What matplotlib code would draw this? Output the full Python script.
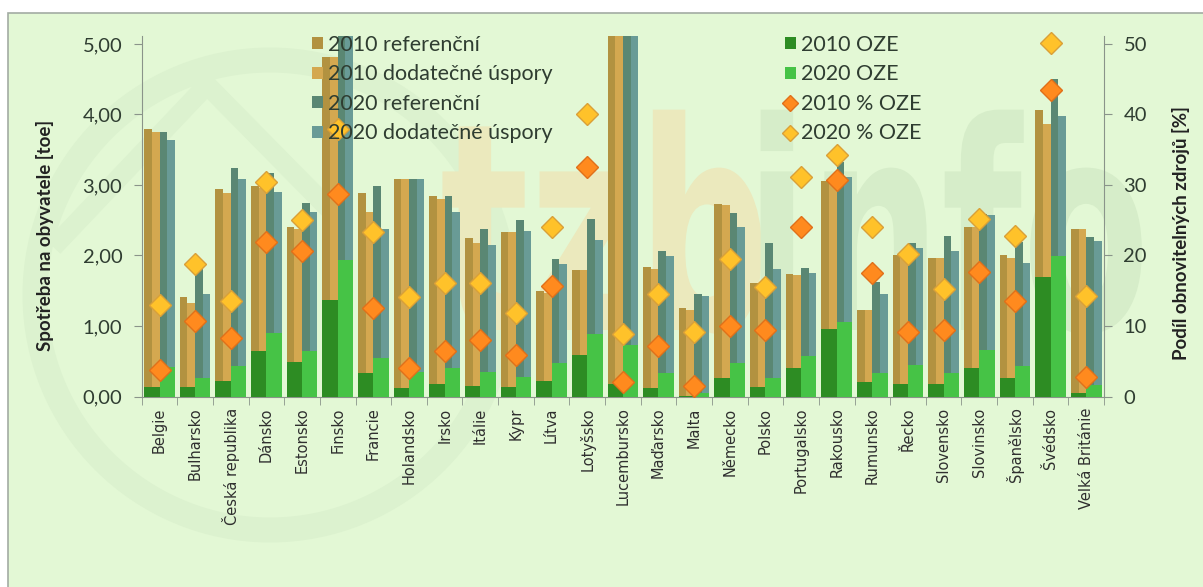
import numpy as np
import matplotlib
matplotlib.use("Agg")
import matplotlib.pyplot as plt
from matplotlib.patches import Patch, Rectangle, Circle, PathPatch
from matplotlib.lines import Line2D
from matplotlib.textpath import TextPath
from matplotlib.font_manager import FontProperties
from matplotlib.ticker import FuncFormatter
from matplotlib.transforms import Affine2D

# Data
countries = ["Belgie", "Bulharsko", "Česká republika", "Dánsko", "Estonsko", "Finsko",
             "Francie", "Holandsko", "Irsko", "Itálie", "Kypr", "Lítva", "Lotyšsko",
             "Lucembursko", "Maďarsko", "Malta", "Německo", "Polsko", "Portugalsko",
             "Rakousko", "Rumunsko", "Řecko", "Slovensko", "Slovinsko", "Španělsko",
             "Švédsko", "Velká Británie"]
# spotřeba na obyvatele [toe]
ref2010 = [3.79, 1.41, 2.94, 2.99, 2.41, 4.81, 2.89, 3.08, 2.84, 2.25, 2.34, 1.50, 1.80, 5.60,
           1.84, 1.25, 2.73, 1.61, 1.74, 3.06, 1.22, 2.00, 1.96, 2.41, 2.00, 4.07, 2.37]
dod2010 = [3.75, 1.33, 2.88, 2.96, 2.38, 4.81, 2.62, 3.08, 2.80, 2.18, 2.34, 1.47, 1.80, 5.60,
           1.81, 1.22, 2.72, 1.58, 1.72, 3.06, 1.22, 1.99, 1.96, 2.41, 1.97, 3.87, 2.37]
ref2020 = [3.75, 1.82, 3.24, 3.17, 2.75, 5.60, 2.99, 3.08, 2.84, 2.37, 2.50, 1.95, 2.52, 5.60,
           2.07, 1.45, 2.60, 2.18, 1.82, 3.33, 1.62, 2.18, 2.28, 2.59, 2.19, 4.50, 2.26]
dod2020 = [3.64, 1.45, 3.09, 2.90, 2.62, 5.60, 2.37, 3.08, 2.62, 2.15, 2.35, 1.88, 2.22, 5.60,
           1.99, 1.42, 2.40, 1.81, 1.75, 3.11, 1.45, 2.10, 2.07, 2.58, 1.89, 3.98, 2.20]
oze2010 = [0.13, 0.13, 0.22, 0.65, 0.49, 1.37, 0.33, 0.12, 0.18, 0.15, 0.13, 0.22, 0.59, 0.18,
           0.12, 0.01, 0.26, 0.13, 0.41, 0.96, 0.20, 0.18, 0.18, 0.41, 0.26, 1.69, 0.05]
oze2020 = [0.42, 0.26, 0.43, 0.90, 0.65, 1.94, 0.54, 0.35, 0.40, 0.35, 0.27, 0.47, 0.89, 0.73,
           0.33, 0.05, 0.47, 0.26, 0.57, 1.06, 0.33, 0.45, 0.33, 0.66, 0.43, 1.99, 0.16]
# podíl OZE [%]
pct2010 = [3.7, 10.7, 8.3, 21.9, 20.7, 28.7, 12.6, 4.1, 6.5, 8.0, 5.9, 15.7, 32.6, 2.1,
           7.2, 1.5, 10.0, 9.5, 24.0, 30.7, 17.5, 9.1, 9.4, 17.6, 13.5, 43.4, 2.8]
pct2020 = [13.0, 18.8, 13.5, 30.4, 25.0, 37.9, 23.3, 14.1, 16.1, 16.1, 11.8, 24.1, 40.0, 8.8,
           14.6, 9.1, 19.5, 15.5, 31.2, 34.2, 24.0, 20.2, 15.2, 25.2, 22.7, 50.1, 14.3]

labels_a = ["2010 referenční", "2010 dodatečné úspory", "2020 referenční", "2020 dodatečné úspory"]
labels_b = ["2010 OZE", "2020 OZE", "2010 % OZE", "2020 % OZE"]

# colours
c_ref10, c_dod10 = "#b29240", "#d4a850"
c_ref20, c_dod20 = "#5a8773", "#699b96"
c_oze10, c_oze20 = "#2d8c23", "#46c346"
c_p10, c_p10e = "#ff8a1e", "#e0701a"
c_p20, c_p20e = "#ffc22a", "#d9a038"
bg = "#e3f8d5"
txt = "#2f3d31"
axcol = "#8a948a"

plt.rcParams['font.family'] = ['Lato', 'DejaVu Sans']

W, H = 1203, 587
fig = plt.figure(figsize=(W / 100, H / 100), dpi=100, facecolor="white")

# background frame
frame = Rectangle((8 / W, -0.05), 1.1, 1.05 - 12.7 / H, transform=fig.transFigure,
                  facecolor=bg, edgecolor="#a3aca3", linewidth=1.2, zorder=-3)
fig.add_artist(frame)

# faint tzbinfo watermark
ring = Circle((270 / 100, (H - 295) / 100), 2.35, transform=fig.dpi_scale_trans,
              facecolor="none", edgecolor="#dcf2cf", linewidth=18, zorder=-2)
fig.add_artist(ring)
chev = Line2D([60 / W, 207 / W, 330 / W], [1 - 240 / H, 1 - 85 / H, 1 - 210 / H],
              transform=fig.transFigure, color="#dcf2cf", linewidth=14, zorder=-2,
              solid_joinstyle="miter")
fig.add_artist(chev)
fp = FontProperties(family="DejaVu Sans", weight="bold")
for word, x0, col in [("tzb", 440, "#ebe9bd"), ("info", 745, "#d6edc9")]:
    tp = TextPath((0, 0), word, size=100, prop=fp)
    tr = Affine2D().scale(1.86 / W, 2.9 / H).translate(x0 / W, (H - 330) / H) + fig.transFigure
    fig.add_artist(PathPatch(tp, transform=tr, facecolor=col, edgecolor="none", zorder=-2))

ax = fig.add_axes([141.7 / W, 1 - 396.5 / H, 962.3 / W, 361 / H])
ax.set_facecolor("none")
ax2 = ax.twinx()

x = np.arange(len(countries))
w = 0.215
ax.bar(x - 1.5 * w, ref2010, w, color=c_ref10, zorder=2)
ax.bar(x - 0.5 * w, dod2010, w, color=c_dod10, zorder=2)
ax.bar(x + 0.5 * w, ref2020, w, color=c_ref20, zorder=2)
ax.bar(x + 1.5 * w, dod2020, w, color=c_dod20, zorder=2)
ax.bar(x - w, oze2010, 2 * w, color=c_oze10, zorder=3)
ax.bar(x + w, oze2020, 2 * w, color=c_oze20, zorder=3)

ax2.plot(x, pct2010, linestyle="none", marker="D", ms=11.5, mfc=c_p10, mec=c_p10e, mew=1, clip_on=False)
ax2.plot(x, pct2020, linestyle="none", marker="D", ms=11.5, mfc=c_p20, mec=c_p20e, mew=1, clip_on=False)

ax.set_xlim(-0.5, len(countries) - 0.5)
ax.set_ylim(0, 5.12)
ax2.set_ylim(0, 51.2)
ax.set_yticks(np.arange(0, 6, 1))
ax2.set_yticks(np.arange(0, 60, 10))
ax.yaxis.set_major_formatter(FuncFormatter(lambda v, p: f"{v:.2f}".replace(".", ",")))

ax.set_xticks(x)
ax.set_xticklabels(countries, rotation=90, fontsize=10.5, family="DejaVu Sans", color="#2f2f2f")
ax.set_xticks(np.arange(-0.5, len(countries), 1), minor=True)
ax.tick_params(axis="x", which="major", length=0, pad=8)
ax.tick_params(axis="x", which="minor", length=6, color=axcol)
ax.tick_params(axis="y", length=6, color=axcol, labelsize=14.5, labelcolor=txt, pad=8)
ax2.tick_params(axis="y", length=6, color=axcol, labelsize=14.5, labelcolor=txt, pad=8)

for a in (ax, ax2):
    a.spines["top"].set_visible(False)
    for s in a.spines.values():
        s.set_color(axcol)
ax.spines["right"].set_visible(False)
ax2.spines["left"].set_visible(False)
ax2.spines["bottom"].set_visible(False)

ax.set_ylabel("Spotřeba na obyvatele [toe]", fontsize=13.5, fontweight="bold", color="#222")
ax.yaxis.set_label_coords(-0.091, 0.447)
ax2.set_ylabel("Podíl obnovitelných zdrojů [%]", fontsize=13.5, fontweight="bold", color="#222",
               rotation=90)
ax2.yaxis.set_label_coords(1.0707, 0.453)

# legends
h_a = [Patch(facecolor=c) for c in (c_ref10, c_dod10, c_ref20, c_dod20)]
h_b = [Patch(facecolor=c_oze10), Patch(facecolor=c_oze20),
       Line2D([], [], linestyle="none", marker="D", ms=8, mfc=c_p10, mec=c_p10e),
       Line2D([], [], linestyle="none", marker="D", ms=8, mfc=c_p20, mec=c_p20e)]
leg_kw = dict(frameon=False, fontsize=15.5, labelcolor=txt, handlelength=0.5, handleheight=0.5,
              handletextpad=0.25, labelspacing=0.44, borderpad=0, borderaxespad=0,
              loc="upper left", bbox_transform=fig.transFigure)
leg1 = ax2.legend(h_a, labels_a, bbox_to_anchor=(312 / W, 1 - 35 / H), **leg_kw)
ax2.add_artist(leg1)
ax2.legend(h_b, labels_b, bbox_to_anchor=(785 / W, 1 - 35 / H), **leg_kw)

fig.savefig("out.png", dpi=100, facecolor=fig.get_facecolor())
